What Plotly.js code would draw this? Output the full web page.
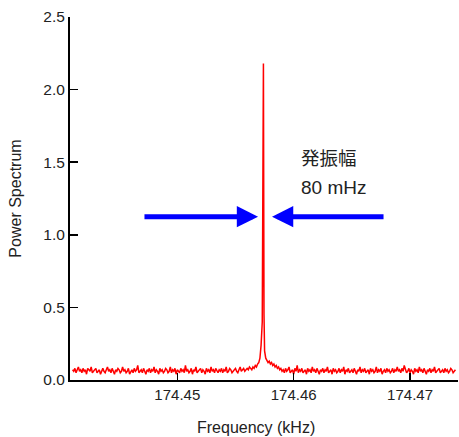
<!DOCTYPE html>
<html>
<head>
<meta charset="utf-8">
<script src="https://cdn.plot.ly/plotly-3.0.1.min.js"></script>
<style>html,body{margin:0;padding:0;background:#fff;}#chart{width:459px;height:437px;}</style>
</head>
<body>
<div id="chart"></div>
<script>
// Sample grid of the spectrum (kHz)
const leftStart = 174.4410;
const rightStart = 174.4579;
const freqStep = 0.0001;

// Baseline noise left of the peak
const leftNoise = [
0.07,0.06,0.08,0.05,0.07,0.09,0.06,0.07,0.05,0.08,
0.06,0.07,0.04,0.08,0.07,0.06,0.09,0.05,0.06,0.07,
0.08,0.05,0.06,0.07,0.04,0.06,0.08,0.06,0.05,0.07,
0.09,0.06,0.07,0.05,0.08,0.06,0.04,0.07,0.06,0.08,
0.07,0.05,0.06,0.09,0.06,0.07,0.05,0.06,0.08,0.04,
0.06,0.07,0.05,0.08,0.06,0.07,0.10,0.05,0.06,0.07,
0.05,0.08,0.06,0.04,0.07,0.06,0.08,0.05,0.07,0.06,
0.09,0.05,0.07,0.06,0.04,0.08,0.06,0.07,0.05,0.06,
0.08,0.07,0.05,0.06,0.09,0.05,0.07,0.06,0.08,0.04,
0.07,0.06,0.05,0.08,0.06,0.07,0.05,0.10,0.06,0.07,
0.05,0.06,0.08,0.04,0.07,0.06,0.09,0.05,0.06,0.07,
0.08,0.05,0.07,0.06,0.04,0.08,0.06,0.07,0.05,0.09,
0.06,0.07,0.05,0.08,0.06,0.05,0.07,0.06,0.08,0.05,
0.07,0.06,0.09,0.05,0.06,0.08,0.07,0.05,0.06,0.07,
0.08,0.06,0.05,0.07,0.09,0.06,0.07,0.08,0.06,0.07,
0.08,0.07,0.09,0.08,0.07,0.09,0.08,0.10,0.09,0.11
];

// Peak region
const peakFreq = [174.4570,174.4571,174.4572,174.45730,174.45735,174.45740,174.45745,174.4575,174.4576,174.4577,174.4578];
const peakVal  = [0.12,0.15,0.24,0.40,1.70,2.18,0.45,0.20,0.15,0.13,0.12];

// Baseline noise right of the peak
const rightNoise = [
0.13,0.11,0.12,0.10,0.11,0.09,0.10,0.08,0.09,0.07,
0.08,0.06,0.07,0.05,0.08,0.06,0.07,0.09,0.05,0.06,
0.07,0.04,0.08,0.06,0.10,0.05,0.07,0.06,0.08,0.05,
0.06,0.07,0.04,0.08,0.06,0.07,0.05,0.09,0.06,0.07,
0.05,0.08,0.06,0.04,0.07,0.06,0.08,0.05,0.07,0.06,
0.09,0.05,0.06,0.07,0.04,0.08,0.06,0.07,0.05,0.06,
0.08,0.05,0.07,0.06,0.09,0.04,0.07,0.06,0.08,0.05,
0.06,0.07,0.05,0.08,0.06,0.04,0.07,0.06,0.09,0.05,
0.07,0.06,0.08,0.05,0.06,0.07,0.04,0.08,0.06,0.07,
0.05,0.06,0.09,0.05,0.07,0.06,0.08,0.04,0.06,0.07,
0.05,0.08,0.06,0.07,0.05,0.06,0.08,0.05,0.07,0.06,
0.09,0.06,0.07,0.05,0.08,0.06,0.10,0.07,0.05,0.06,
0.08,0.05,0.07,0.06,0.04,0.08,0.06,0.07,0.05,0.09,
0.06,0.07,0.05,0.08,0.06,0.04,0.07,0.06,0.08,0.05,
0.07,0.06,0.09,0.05,0.06,0.07,0.08,0.05,0.06,0.07,
0.05,0.08,0.06,0.07,0.05,0.06,0.08,0.07,0.05,0.06,
0.07
];

// Tick values / labels
const xTickVals = [174.45, 174.46, 174.47];
const xTickText = ['174.45', '174.46', '174.47'];
const yTickVals = [0, 0.5, 1.0, 1.5, 2.0, 2.5];
const yTickText = ['0.0', '0.5', '1.0', '1.5', '2.0', '2.5'];

// Annotation content
const labelLine1 = '発振幅';
const labelLine2 = '80 mHz';
const arrowY = 1.125;
const leftArrow = {tail: 174.44705, head: 174.45694};
const rightArrow = {tail: 174.46785, head: 174.45814};

const xs = [], ys = [];
leftNoise.forEach((v, i) => { xs.push(+(leftStart + i * freqStep).toFixed(5)); ys.push(v); });
peakFreq.forEach((f, i) => { xs.push(f); ys.push(peakVal[i]); });
rightNoise.forEach((v, i) => { xs.push(+(rightStart + i * freqStep).toFixed(5)); ys.push(v); });

const FONT = 'Arial, "Liberation Sans", sans-serif';
const CJK = 'Arial, "Liberation Sans", "Noto Sans CJK JP", sans-serif';

const data = [{
  type: 'scatter', mode: 'lines', x: xs, y: ys,
  line: {color: '#ff0000', width: 1.5},
  hoverinfo: 'skip'
}];

const layout = {
  width: 459, height: 437,
  margin: {l: 70, r: 1, t: 17, b: 57},
  paper_bgcolor: '#fff', plot_bgcolor: '#fff',
  showlegend: false,
  font: {family: FONT, size: 15, color: '#222'},
  xaxis: {
    range: [174.44078, 174.47412],
    tickvals: xTickVals, ticktext: xTickText,
    ticks: 'inside', ticklen: 7, tickwidth: 1.5, tickcolor: '#000',
    showline: true, linecolor: '#000', linewidth: 2,
    showgrid: false, zeroline: false,
    tickfont: {family: FONT, size: 15, color: '#222'}
  },
  yaxis: {
    range: [0, 2.5],
    tickvals: yTickVals, ticktext: yTickText,
    ticks: 'inside', ticklen: 8, tickwidth: 1.5, tickcolor: '#000',
    showline: true, linecolor: '#000', linewidth: 2,
    showgrid: false, zeroline: false,
    tickfont: {family: FONT, size: 15.5, color: '#222'},
    title: {text: 'Power Spectrum', font: {family: FONT, size: 16, color: '#222'}, standoff: 18}
  },
  annotations: [
    {xref: 'paper', yref: 'paper', x: 0.48, y: 0, yshift: -47, xanchor: 'center', yanchor: 'middle',
     text: 'Frequency (kHz)', showarrow: false, font: {family: FONT, size: 16, color: '#222'}},
    {xref: 'x', yref: 'y', x: 174.46045, y: 1.525, xanchor: 'left', yanchor: 'middle',
     text: labelLine1, showarrow: false, font: {family: CJK, size: 18.5, color: '#222'}},
    {xref: 'x', yref: 'y', x: 174.46045, y: 1.325, xanchor: 'left', yanchor: 'middle',
     text: labelLine2, showarrow: false, font: {family: FONT, size: 19, color: '#222'}},
    {xref: 'x', yref: 'y', axref: 'x', ayref: 'y', x: leftArrow.head, y: arrowY, ax: leftArrow.tail, ay: arrowY,
     text: '', showarrow: true, arrowhead: 2, arrowsize: 0.85, arrowwidth: 5, arrowcolor: '#0000ff', standoff: 0},
    {xref: 'x', yref: 'y', axref: 'x', ayref: 'y', x: rightArrow.head, y: arrowY, ax: rightArrow.tail, ay: arrowY,
     text: '', showarrow: true, arrowhead: 2, arrowsize: 0.85, arrowwidth: 5, arrowcolor: '#0000ff', standoff: 0}
  ]
};

Plotly.newPlot('chart', data, layout, {displayModeBar: false, staticPlot: true});
</script>
</body>
</html>
